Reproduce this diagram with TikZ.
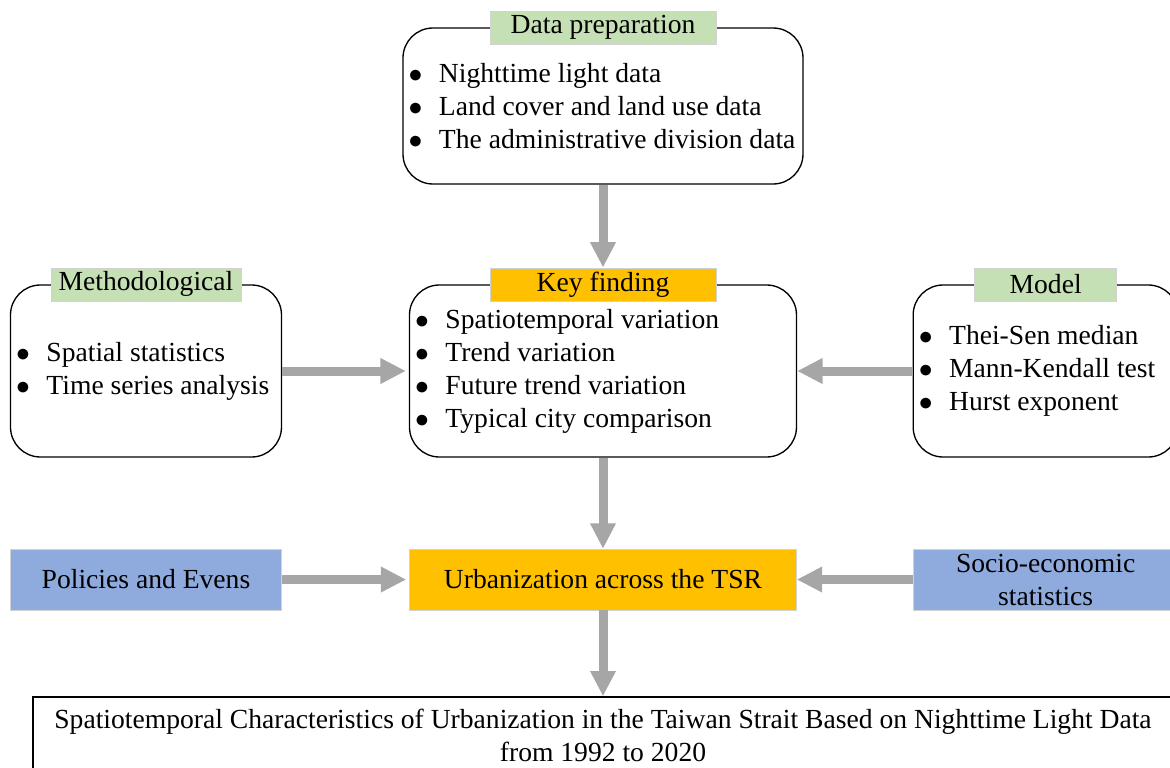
\documentclass[tikz,border=0pt]{standalone}
\usepackage{fontspec}
\setmainfont{Liberation Serif}
\usepackage{tikz}
\usetikzlibrary{positioning,arrows.meta}
\definecolor{headgreen}{HTML}{C5E0B4}
\definecolor{keyorange}{HTML}{FFC000}
\definecolor{factorblue}{HTML}{8FAADC}
\definecolor{flowgray}{HTML}{A6A6A6}
\newcommand{\bitem}{$\bullet$\hspace{0.6em}}

\begin{document}
\begin{tikzpicture}[on grid,font=\fontsize{20.7}{24.75}\selectfont]
	\tikzstyle{panel}=[draw,rectangle,rounded corners=22.5pt,line width=1pt,minimum height=129pt]
	\tikzstyle{list}=[align=left,inner sep=0pt,anchor=west,xshift=4.5pt]
	\tikzstyle{heading}=[draw=gray!35,fill=headgreen,rectangle,minimum height=24.75pt,inner sep=0pt]
	\tikzstyle{factor}=[draw=gray!35,fill=factorblue,rectangle,minimum height=45.75pt,align=center]
	\tikzstyle{flow}=[-{Triangle[width=18pt,length=19pt]},flowgray,line width=6.75pt]
	
	\useasboundingbox (-452.25pt,79.5pt) rectangle (425.25pt,-495.75pt);
	
	%
	% main flow
	%
	\node [panel,minimum width=300pt,minimum height=117pt] (prep) {};
	\node [panel,below=198.75pt of prep,minimum width=290.25pt] (key) {};
	\node [factor,fill=keyorange,below=156.4pt of key,minimum width=290.25pt] (urban) {Urbanization across the TSR};
	\node [draw,rectangle,line width=1pt,below=116.6pt of urban,minimum width=855pt,minimum height=57pt,align=center] (result) {Spatiotemporal Characteristics of Urbanization in the Taiwan Strait Based on Nighttime Light Data\\from 1992 to 2020};
	
	\node [list] (prep-list) at (prep.west) {\bitem Nighttime light data\\\bitem Land cover and land use data\\\bitem The administrative division data};
	\node [list] (key-list) at (key.west) {\bitem Spatiotemporal variation\\\bitem Trend variation\\\bitem Future trend variation\\\bitem Typical city comparison};
	
	\node [heading,minimum width=169.5pt] (prep-head) at (prep.north) {Data preparation};
	\node [heading,fill=keyorange,minimum width=169.5pt] (key-head) at (key.north) {Key finding};
	
	%
	% methods and model
	%
	\node [panel,left=342.75pt of key,minimum width=203.25pt] (meth) {};
	\node [panel,right=332pt of key,minimum width=198.75pt] (model) {};
	
	\node [list] (meth-list) at (meth.west) {\bitem Spatial statistics\\\bitem Time series analysis};
	\node [list] (model-list) at (model.west) {\bitem Thei-Sen median\\\bitem Mann-Kendall test\\\bitem Hurst exponent};
	
	\node [heading,minimum width=142.5pt] (meth-head) at (meth.north) {Methodological};
	\node [heading,minimum width=106.5pt] (model-head) at (model.north) {Model};
	
	%
	% outside factors
	%
	\node [factor,left=342.75pt of urban,minimum width=203.25pt] (policy) {Policies and Evens};
	\node [factor,right=332pt of urban,minimum width=198.75pt] (socio) {Socio-economic\\statistics};
	
	\begin{scope}[flow]
		\draw (prep) -- (key-head);
		\draw (key) -- (urban);
		\draw (urban) -- (result);
		\draw [shorten >=2.25pt] (meth) -- (key);
		\draw (model) -- (key);
		\draw [shorten >=2.25pt] (policy) -- (urban);
		\draw (socio) -- (urban);
	\end{scope}
	
\end{tikzpicture}
\end{document}
